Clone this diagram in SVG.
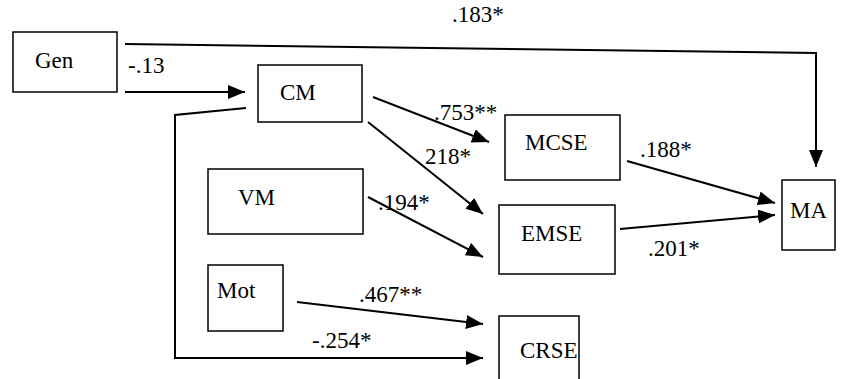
<svg xmlns="http://www.w3.org/2000/svg" width="866" height="379" viewBox="0 0 866 379">
<style>
.box{fill:#fff;stroke:#000;stroke-width:1.5}
.t{font-family:"Liberation Serif","Times New Roman",serif;font-size:23px;fill:#000}
.c{fill:none;stroke:#000;stroke-width:2}
</style>
<defs>
<marker id="ah" markerUnits="userSpaceOnUse" markerWidth="20" markerHeight="16" refX="17" refY="7" orient="auto">
<path d="M0,0 L17,7 L0,14 Z" fill="#000"/>
</marker>
</defs>
<rect width="866" height="379" fill="#fff"/>
<g id="connectors">
<polyline class="c" points="125,44 816,53 816,167" marker-end="url(#ah)"/>
<line class="c" x1="125" y1="92" x2="245" y2="92" marker-end="url(#ah)"/>
<polyline class="c" points="246,108 175,115 175,358 483,358" marker-end="url(#ah)"/>
<line class="c" x1="373" y1="97" x2="489" y2="142" marker-end="url(#ah)"/>
<line class="c" x1="368" y1="122" x2="483" y2="214" marker-end="url(#ah)"/>
<line class="c" x1="368" y1="197" x2="483" y2="257" marker-end="url(#ah)"/>
<line class="c" x1="297" y1="302" x2="483" y2="324" marker-end="url(#ah)"/>
<line class="c" x1="627" y1="161" x2="775" y2="203" marker-end="url(#ah)"/>
<line class="c" x1="620" y1="229" x2="775" y2="215" marker-end="url(#ah)"/>
</g>
<g id="labels">
<text class="t" x="452" y="22">.183*</text>
<text class="t" x="128" y="73">-.13</text>
<text class="t" x="434" y="120">.753**</text>
<text class="t" x="425" y="164">218*</text>
<text class="t" x="378" y="210">.194*</text>
<text class="t" x="640" y="157">.188*</text>
<text class="t" x="648" y="256">.201*</text>
<text class="t" x="359" y="302">.467**</text>
<text class="t" x="312" y="348">-.254*</text>
</g>
<g id="Gen"><rect class="box" x="13" y="32" width="104" height="60"/><text class="t" x="35" y="68">Gen</text></g>
<g id="CM"><rect class="box" x="258" y="65" width="104" height="57"/><text class="t" x="280" y="100">CM</text></g>
<g id="MCSE"><rect class="box" x="505" y="115" width="115" height="65"/><text class="t" x="525" y="150">MCSE</text></g>
<g id="VM"><rect class="box" x="208" y="169" width="155" height="65"/><text class="t" x="238" y="205">VM</text></g>
<g id="EMSE"><rect class="box" x="499" y="205" width="116" height="69"/><text class="t" x="521" y="241">EMSE</text></g>
<g id="Mot"><rect class="box" x="208" y="265" width="75" height="66"/><text class="t" x="217" y="298">Mot</text></g>
<g id="CRSE"><rect class="box" x="499" y="316" width="80" height="70"/><text class="t" x="520" y="358">CRSE</text></g>
<g id="MA"><rect class="box" x="782" y="180" width="53" height="70"/><text class="t" x="790" y="218">MA</text></g>
</svg>
